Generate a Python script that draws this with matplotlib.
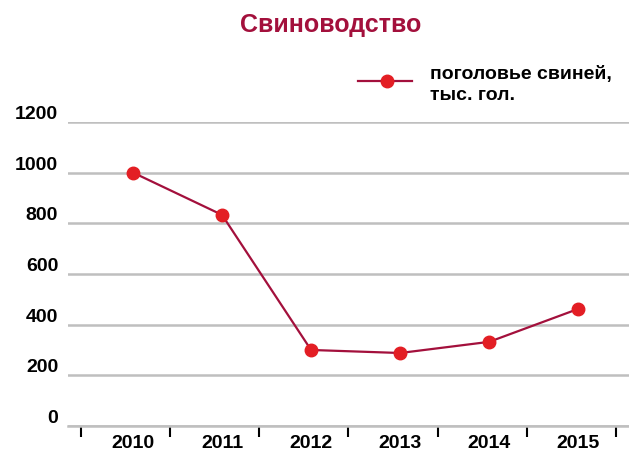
import matplotlib.pyplot as plt
from matplotlib.lines import Line2D

plt.rcParams["font.family"] = ["Liberation Sans", "DejaVu Sans"]
plt.rcParams["font.weight"] = "bold"

years = ["2010", "2011", "2012", "2013", "2014", "2015"]
pigs = [1000, 833, 300, 288, 332, 462]
y_ticks = [0, 200, 400, 600, 800, 1000, 1200]

line_color = "#A3103C"
marker_color = "#E31E24"
grid_color = "#BFBFBF"

fig = plt.figure(figsize=(6.29, 4.56), dpi=100)
ax = fig.add_axes([0.108, 0.0636, 0.892, 0.667])

x = list(range(len(years)))
ax.plot(x, pigs, color=line_color, lw=1.6, marker="o", markersize=9,
        markerfacecolor=marker_color, markeredgecolor=marker_color, zorder=3)

ax.set_ylim(0, 1200)
ax.set_xlim(-0.73, 5.57)
ax.set_yticks(y_ticks)
ax.set_yticklabels([str(v) for v in y_ticks], fontsize=14, fontweight="bold")
ax.yaxis.grid(True, color=grid_color, lw=1.8)
ax.set_axisbelow(True)
ax.tick_params(axis="y", length=0, pad=7)
for lbl in ax.get_yticklabels():
    lbl.set_va("bottom")

ax.set_xticks(x)
ax.set_xticklabels(years, fontsize=14, fontweight="bold")
ax.tick_params(axis="x", length=0, pad=6)
ax.set_xticks([i - 0.58 for i in range(len(years) + 1)], minor=True)
ax.tick_params(axis="x", which="minor", length=8, width=1.5, color="black",
               direction="out", pad=0)

for s in ["top", "right", "left"]:
    ax.spines[s].set_visible(False)
ax.spines["bottom"].set_color(grid_color)
ax.spines["bottom"].set_linewidth(1.8)

fig.text(0.525, 0.945, "Свиноводство", ha="center", va="center",
         fontsize=18, fontweight="bold", color=line_color)

# legend drawn by hand
fig.add_artist(Line2D([358 / 629, 412 / 629], [1 - 82 / 456, 1 - 82 / 456],
                      color=line_color, lw=1.6, transform=fig.transFigure))
fig.add_artist(Line2D([387 / 629], [1 - 82 / 456], marker="o", markersize=9,
                      color=marker_color, transform=fig.transFigure))
fig.text(430 / 629, 1 - 85 / 456, "поголовье свиней,\nтыс. гол.", ha="left",
         va="center", fontsize=14, fontweight="bold", linespacing=1.35)

fig.savefig("out.png", dpi=100)
